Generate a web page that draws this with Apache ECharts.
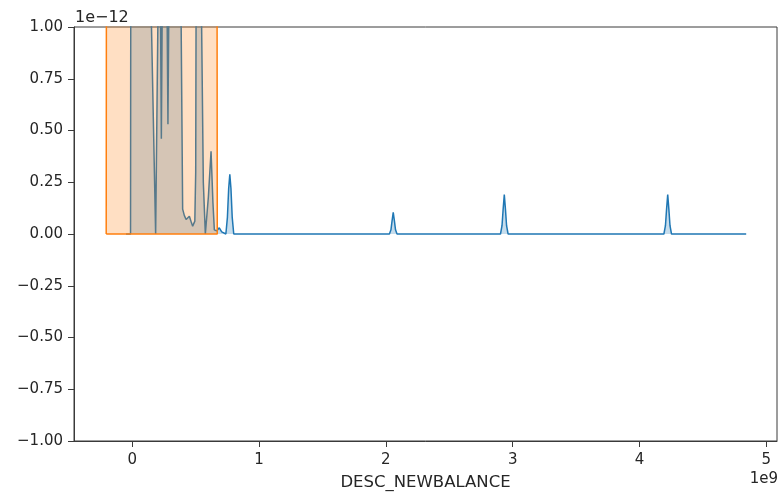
<!DOCTYPE html>
<html>
<head>
<meta charset="utf-8">
<script src="https://cdn.jsdelivr.net/npm/echarts@6/dist/echarts.min.js"></script>
<style>
  html, body { margin: 0; padding: 0; background: #fff; }
  #chart { width: 781px; height: 496px; }
</style>
</head>
<body>
<div id="chart"></div>
<script>
// Kernel density of DESC_NEWBALANCE for two groups.
// x values are in units of 1e9, densities in units of 1e-12 (offset labels drawn separately).

// group A (blue): density curve, clipped at the top of the axis
const balanceA = [
  -0.050, -0.014, -0.010, 0.040, 0.100, 0.140, 0.148, 0.184, 0.203, 0.212,
  0.222, 0.229, 0.236, 0.255, 0.274, 0.281, 0.288, 0.330, 0.375, 0.384,
  0.397, 0.410, 0.424, 0.450, 0.466, 0.476, 0.493, 0.500, 0.503, 0.520,
  0.545, 0.560, 0.576, 0.600, 0.621, 0.636, 0.647, 0.665, 0.686, 0.705,
  0.738, 0.750, 0.760, 0.769, 0.778, 0.788, 0.800,
  2.028, 2.040, 2.048, 2.058, 2.068, 2.076, 2.088,
  2.745, 2.760, 2.775,
  2.904, 2.916, 2.925, 2.934, 2.943, 2.952, 2.964,
  4.193, 4.205, 4.214, 4.223, 4.232, 4.241, 4.253,
  4.842
];
const densityA = [
  0, 0, 2.6, 3.2, 2.8, 1.9, 1.1, 0.0, 1.1, 1.8,
  1.1, 0.46, 1.1, 1.6, 1.1, 0.53, 1.1, 2.0, 1.6, 1.1,
  0.12, 0.09, 0.07, 0.086, 0.055, 0.038, 0.062, 0.30, 1.1, 2.4,
  1.1, 0.25, 0.0, 0.18, 0.40, 0.15, 0.02, 0.015, 0.03, 0.01,
  0.0, 0.08, 0.22, 0.288, 0.22, 0.08, 0.0,
  0, 0.02, 0.06, 0.105, 0.06, 0.02, 0,
  0, 0.004, 0,
  0, 0.04, 0.12, 0.19, 0.12, 0.04, 0,
  0, 0.04, 0.12, 0.19, 0.12, 0.04, 0,
  0
];

// group B (orange): density far above the visible range over its whole support
const balanceB = [-0.206, -0.202, -0.150, 0.200, 0.500, 0.666, 0.670, -0.206];
const densityB = [0, 3.0, 3.5, 4.0, 3.6, 3.0, 0, 0];

const xTicks = [0, 1, 2, 3, 4, 5];
const xLabelName = 'DESC_NEWBALANCE';
const xOffsetText = '1e9';
const yOffsetText = '1e\u221212';

const pairs = (xs, ys) => xs.map((x, i) => [x, ys[i]]);
const fmtNum = (v, d) => (v < 0 ? '\u2212' : '') + Math.abs(v).toFixed(d);

const FONT = 'DejaVu Sans';
const AXIS_COLOR = '#3a3a3a';
const TEXT_COLOR = '#262626';

const chart = echarts.init(document.getElementById('chart'), null, { renderer: 'canvas' });

chart.setOption({
  animation: false,
  backgroundColor: '#ffffff',
  grid: {
    left: 74, right: 4, top: 27, bottom: 55,
    show: true, borderColor: AXIS_COLOR, borderWidth: 1,
    outerBoundsMode: 'none'
  },
  xAxis: {
    type: 'value',
    min: -0.46, max: 5.085,
    name: xLabelName,
    nameLocation: 'middle',
    nameGap: 33,
    nameTextStyle: { fontFamily: FONT, fontSize: 16.5, color: TEXT_COLOR },
    axisLine: { show: true, onZero: false, lineStyle: { color: AXIS_COLOR, width: 1 } },
    axisTick: { show: true, length: 6, customValues: xTicks, lineStyle: { color: AXIS_COLOR } },
    axisLabel: {
      customValues: xTicks, margin: 12,
      fontFamily: FONT, fontSize: 15, color: TEXT_COLOR,
      formatter: v => fmtNum(v, 0)
    },
    splitLine: { show: false }
  },
  yAxis: {
    type: 'value',
    min: -1, max: 1, interval: 0.25,
    axisLine: { show: true, onZero: false, lineStyle: { color: AXIS_COLOR, width: 1 } },
    axisTick: { show: true, length: 6, lineStyle: { color: AXIS_COLOR } },
    axisLabel: {
      margin: 11,
      fontFamily: FONT, fontSize: 15, color: TEXT_COLOR,
      formatter: v => fmtNum(v, 2)
    },
    splitLine: { show: false }
  },
  graphic: [
    {
      type: 'text', left: 75, top: 10,
      style: { text: yOffsetText, fontFamily: FONT, fontSize: 16, fill: TEXT_COLOR }
    },
    {
      type: 'text', right: 3, top: 472,
      style: { text: xOffsetText, fontFamily: FONT, fontSize: 15, fill: TEXT_COLOR }
    }
  ],
  series: [
    {
      name: 'A',
      type: 'line',
      data: pairs(balanceA, densityA),
      showSymbol: false,
      clip: true,
      lineStyle: { color: '#1f77b4', width: 1.5 },
      areaStyle: { color: '#1f77b4', opacity: 0.25 },
      z: 2
    },
    {
      name: 'B',
      type: 'line',
      data: pairs(balanceB, densityB),
      showSymbol: false,
      clip: true,
      lineStyle: { color: '#ff7f0e', width: 1.5 },
      areaStyle: { color: '#ff7f0e', opacity: 0.25 },
      z: 3
    }
  ]
});
</script>
</body>
</html>
